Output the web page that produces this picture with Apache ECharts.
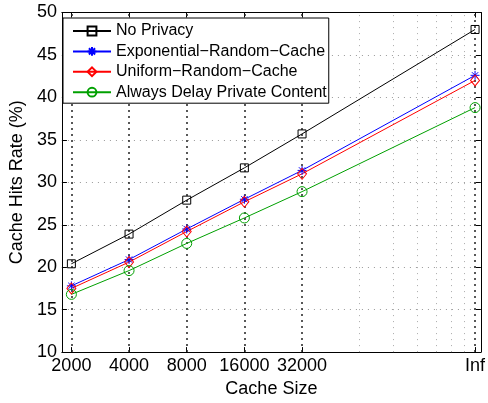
<!DOCTYPE html>
<html><head><meta charset="utf-8">
<script src="https://cdn.jsdelivr.net/npm/echarts@6/dist/echarts.min.js"></script>
<style>html,body{margin:0;padding:0;background:#fff}#c{width:488px;height:403px}</style>
</head><body><div id="c"></div>
<script>
// Cache sizes (Inf plotted at 256000, three doublings after 32000)
const cacheSizes = [2000, 4000, 8000, 16000, 32000, 256000];
const xTickLabels = ['2000', '4000', '8000', '16000', '32000', 'Inf'];
const minorGrid = [64000, 96000, 128000, 160000, 192000, 224000];
const seriesNames = ['No Privacy', 'Exponential\u2212Random\u2212Cache', 'Uniform\u2212Random\u2212Cache', 'Always Delay Private Content'];
const noPrivacy   = [20.4, 23.9, 27.9, 31.7, 35.7, 48.0];
const exponential = [17.8, 20.9, 24.5, 28.0, 31.4, 42.6];
const uniform     = [17.5, 20.6, 24.2, 27.7, 31.0, 42.0];
const alwaysDelay = [16.8, 19.6, 22.8, 25.8, 28.9, 38.8];

const FONT = '"Liberation Sans", Arial, Helvetica, sans-serif';
const xMin = 1785, xMax = 274400;

function pairs(vals) { return cacheSizes.map((x, i) => [x, vals[i]]); }
function xLabel(v) {
  const i = cacheSizes.findIndex(c => Math.abs(c - v) / c < 1e-3);
  return i >= 0 ? xTickLabels[i] : '';
}

const starPath = 'path://M50,0L50,100M0,50L100,50M15,15L85,85M15,85L85,15';

const chart = echarts.init(document.getElementById('c'), null, { renderer: 'canvas' });
const baseX = {
  type: 'log', logBase: 2, min: xMin, max: xMax,
  axisLine: { show: true, onZero: false, lineStyle: { color: '#000', width: 1 } },
  splitLine: { show: false }
};
chart.setOption({
  animation: false,
  backgroundColor: '#fff',
  textStyle: { fontFamily: FONT },
  grid: { left: 57, right: 1, top: 12.5, bottom: 50, containLabel: false },
  legend: {
    data: seriesNames,
    orient: 'vertical', left: 63, top: 18,
    backgroundColor: '#fff', borderColor: '#000', borderWidth: 1,
    padding: [5, 2, 3, 9],
    itemWidth: 38, itemHeight: 11, itemGap: 4.4,
    textStyle: { fontFamily: FONT, fontSize: 16, color: '#000', lineHeight: 15 }
  },
  xAxis: [
    Object.assign({}, baseX, {
      position: 'bottom',
      name: 'Cache Size', nameLocation: 'middle', nameGap: 25,
      nameTextStyle: { fontFamily: FONT, fontSize: 18, color: '#000' },
      axisTick: { show: true, inside: true, length: 5, customValues: cacheSizes, lineStyle: { color: '#000' } },
      axisLabel: { show: true, customValues: cacheSizes, formatter: xLabel, margin: 5, fontFamily: FONT, fontSize: 18, color: '#000' }
    }),
    Object.assign({}, baseX, {
      position: 'top',
      axisTick: { show: true, inside: true, length: 5, customValues: cacheSizes, lineStyle: { color: '#000' } },
      axisLabel: { show: false }
    })
  ],
  yAxis: [
    {
      type: 'value', min: 10, max: 50, interval: 5, position: 'left',
      name: 'Cache Hits Rate (%)', nameLocation: 'middle', nameGap: 31,
      nameTextStyle: { fontFamily: FONT, fontSize: 18, color: '#000' },
      axisLine: { show: true, lineStyle: { color: '#000', width: 1 } },
      axisTick: { show: true, inside: true, length: 5, lineStyle: { color: '#000' } },
      axisLabel: { margin: 5, fontFamily: FONT, fontSize: 18, color: '#000' },
      splitLine: { show: true, lineStyle: { color: '#999', width: 1, type: [1, 5] } }
    },
    {
      type: 'value', min: 10, max: 50, interval: 5, position: 'right',
      axisLine: { show: true, lineStyle: { color: '#000', width: 1 } },
      axisTick: { show: true, inside: true, length: 5, lineStyle: { color: '#000' } },
      axisLabel: { show: false }, splitLine: { show: false }
    }
  ],
  series: [
    {
      name: 'grid', type: 'line', data: [], silent: true, z: 1,
      markLine: {
        silent: true, symbol: 'none', label: { show: false }, z: 1,
        data: cacheSizes.map(v => ({ xAxis: v, lineStyle: { color: '#222', width: 1.5, type: [2, 4] } }))
          .concat(minorGrid.map(v => ({ xAxis: v, lineStyle: { color: '#aaa', width: 1, type: [1, 5] } })))
      }
    },
    {
      name: seriesNames[0], type: 'line', data: pairs(noPrivacy), z: 3,
      symbol: 'rect', symbolSize: 8, showAllSymbol: true,
      lineStyle: { color: '#000', width: 1 },
      itemStyle: { color: 'rgba(255,255,255,0)', borderColor: '#000', borderWidth: 1 }
    },
    {
      name: seriesNames[1], type: 'line', data: pairs(exponential), z: 3,
      symbol: starPath, symbolSize: 9,
      lineStyle: { color: '#0000ff', width: 1 },
      itemStyle: { color: 'rgba(255,255,255,0)', borderColor: '#0000ff', borderWidth: 1 }
    },
    {
      name: seriesNames[2], type: 'line', data: pairs(uniform), z: 3,
      symbol: 'diamond', symbolSize: [9, 11],
      lineStyle: { color: '#ff0000', width: 1 },
      itemStyle: { color: 'rgba(255,255,255,0)', borderColor: '#ff0000', borderWidth: 1 }
    },
    {
      name: seriesNames[3], type: 'line', data: pairs(alwaysDelay), z: 3,
      symbol: 'circle', symbolSize: 10,
      lineStyle: { color: '#00a000', width: 1 },
      itemStyle: { color: 'rgba(255,255,255,0)', borderColor: '#00a000', borderWidth: 1 }
    }
  ]
});
</script></body></html>
